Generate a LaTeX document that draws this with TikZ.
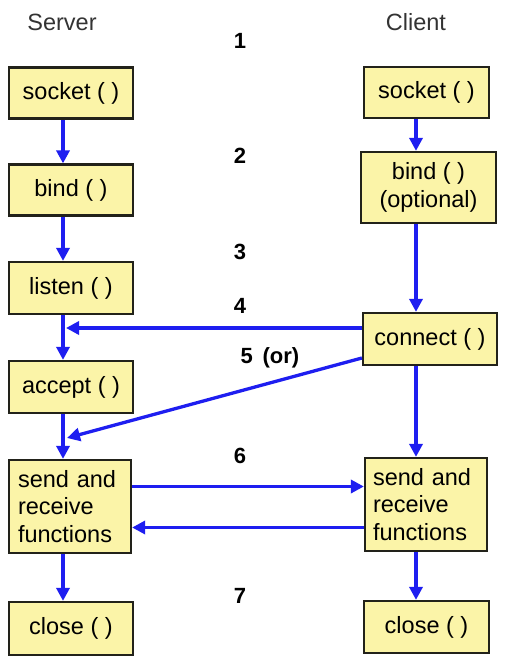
\documentclass[tikz,border=0pt]{standalone}
\usepackage{fontspec}
\setmainfont{Liberation Sans}
\usetikzlibrary{arrows.meta,calc}
\definecolor{boxfill}{HTML}{FBF4A8}
\definecolor{boxline}{HTML}{22221A}
\definecolor{arrowblue}{HTML}{1E1EF0}
\definecolor{headgray}{HTML}{333333}
\begin{document}
\begin{tikzpicture}[x=1pt,y=-1pt,
  fbox/.style={draw=boxline,line width=2.2pt,fill=boxfill,inner sep=0pt,
    font=\fontsize{23.5}{27.5}\selectfont,align=center},
  lbox/.style={fbox,align=left},
  flow/.style={draw=arrowblue,line width=3.3pt,-{Triangle[length=13pt,width=13pt]}},
  numlbl/.style={font=\fontsize{22}{25}\selectfont\bfseries,text=black},
  head/.style={font=\fontsize{23.5}{27}\selectfont,text=headgray}]
\useasboundingbox (0,0) rectangle (504,666);
% headings
\node[head] (hs) at (62,22) {Server};
\node[head] (hc) at (416,22) {Client};
% step numbers
\node[numlbl] (n1) at (240,41) {1};
\node[numlbl] (n2) at (240,156) {2};
\node[numlbl] (n3) at (240,252) {3};
\node[numlbl] (n4) at (240,306) {4};
\node[numlbl] (n5) at (270,358) {5 \,(or)};
\node[numlbl] (n6) at (240,456) {6};
\node[numlbl] (n7) at (240,596) {7};
% server boxes
\node[fbox,minimum width=124pt,minimum height=51pt] (ssock) at (71,93) {socket ( )};
\node[fbox,minimum width=124pt,minimum height=51pt] (sbind) at (71,190) {bind ( )};
\node[fbox,minimum width=124pt,minimum height=52pt] (slisten) at (71,288) {listen ( )};
\node[fbox,minimum width=124pt,minimum height=52pt] (saccept) at (71,387) {accept ( )};
\node[lbox,minimum width=122pt,minimum height=93pt,text width=104pt] (ssend) at (70,506.5) {send and\\receive\\functions};
\node[fbox,minimum width=124pt,minimum height=53pt] (sclose) at (71,628.5) {close ( )};
% client boxes
\node[fbox,minimum width=125pt,minimum height=51pt] (csock) at (426.5,92.5) {socket ( )};
\node[fbox,minimum width=135pt,minimum height=71pt] (cbind) at (428.5,187.5) {bind ( )\\(optional)};
\node[fbox,minimum width=134pt,minimum height=52pt] (cconn) at (430,339) {connect ( )};
\node[lbox,minimum width=122pt,minimum height=93pt,text width=106pt] (csend) at (426,504.5) {send and\\receive\\functions};
\node[fbox,minimum width=125pt,minimum height=52pt] (cclose) at (426.5,627) {close ( )};
% arrow axes
\coordinate (axs) at (63,0);
\coordinate (axc) at (416,0);
\coordinate (j4) at (63,328);
\coordinate (j5) at (63,438);
% server vertical flow
\draw[flow] (ssock.south -| axs) -- (sbind.north -| axs);
\draw[flow] (sbind.south -| axs) -- (slisten.north -| axs);
\draw[flow] (slisten.south -| axs) -- (saccept.north -| axs);
\draw[flow] (saccept.south -| axs) -- (ssend.north -| axs);
\draw[flow] (ssend.south -| axs) -- (sclose.north -| axs);
% client vertical flow
\draw[flow] (csock.south -| axc) -- (cbind.north -| axc);
\draw[flow] (cbind.south -| axc) -- (cconn.north -| axc);
\draw[flow] (cconn.south -| axc) -- (csend.north -| axc);
\draw[flow] (csend.south -| axc) -- (cclose.north -| axc);
% cross arrows
\draw[flow] (cconn.west |- j4) -- ($(j4)+(3,0)$);
\draw[flow] ($(cconn.west)+(0,19)$) -- ($(j5)+(4,0)$);
\draw[flow] ($(ssend.east)+(0,-20)$) -- ($(csend.west)+(0,-18)$);
\draw[flow] ($(csend.west)+(0,23)$) -- ($(ssend.east)+(0,21)$);
\end{tikzpicture}
\end{document}
